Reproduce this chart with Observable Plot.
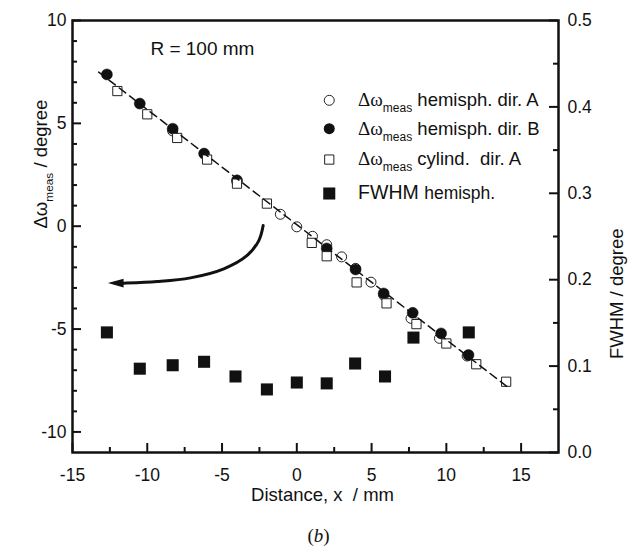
<!DOCTYPE html>
<html>
<head>
<meta charset="utf-8">
<script src="https://cdn.jsdelivr.net/npm/d3@7"></script>
<script src="https://cdn.jsdelivr.net/npm/@observablehq/plot@0.6"></script>
<style>
  html, body { margin: 0; padding: 0; background: #fff; }
</style>
</head>
<body>
<div id="chart"></div>
<script>
// ---- data ----
const hemiA_x = [-8.3, -4.0, -1.1, 0.0, 1.05, 2.0, 3.0, 3.93, 4.96, 5.81, 7.64, 9.54, 11.39];
const hemiA_y = [4.63, 2.15, 0.58, -0.03, -0.49, -0.9, -1.49, -2.05, -2.72, -3.35, -4.48, -5.45, -6.31];

const hemiB_x = [-12.7, -10.5, -8.3, -6.2, -4.0, 2.0, 3.93, 5.81, 7.75, 9.65, 11.48];
const hemiB_y = [7.38, 5.96, 4.74, 3.53, 2.23, -1.08, -2.1, -3.27, -4.21, -5.21, -6.26];

const cyl_x = [-12.0, -10.0, -8.0, -6.0, -4.0, -2.0, 1.0, 2.0, 4.0, 6.0, 8.0, 10.0, 12.0, 14.0];
const cyl_y = [6.57, 5.44, 4.29, 3.24, 2.07, 1.1, -0.81, -1.46, -2.73, -3.75, -4.76, -5.7, -6.71, -7.56];

const fwhm_x = [-12.7, -10.5, -8.3, -6.2, -4.1, -2.0, 0.0, 2.0, 3.9, 5.9, 7.8, 11.5];
const fwhm_v = [0.139, 0.097, 0.101, 0.105, 0.088, 0.073, 0.081, 0.080, 0.103, 0.088, 0.133, 0.139];

const fit_x = [-13.25, 14.25];
const fit_y = [7.49, -7.9];

// annotation arrow path and head
const arrow_x = [-2.25, -2.54, -3.32, -4.88, -7.11, -9.34, -11.57, -12.1];
const arrow_y = [0.03, -0.70, -1.42, -2.07, -2.51, -2.69, -2.77, -2.78];
const head_x = [-12.6, -11.55];
const head_lo = [-2.79, -3.0];
const head_hi = [-2.79, -2.58];

// ticks
const xMajor = [-15, -10, -5, 0, 5, 10, 15];
const xMinor = [-12.5, -7.5, -2.5, 2.5, 7.5, 12.5];
const yMajor = [-10, -5, 0, 5, 10];
const yMinor = [-9, -8, -7, -6, -4, -3, -2, -1, 1, 2, 3, 4, 6, 7, 8, 9];
const fwhmMajor = [0, 0.1, 0.2, 0.3, 0.4, 0.5];
const fwhmMinor = [0.05, 0.15, 0.25, 0.35, 0.45];

// legend
const legendLabels = ["Δω_meas hemisph. dir. A", "Δω_meas hemisph. dir. B", "Δω_meas cylind.  dir. A", "FWHM hemisph."];
const legendY = [6.12, 4.74, 3.24, 1.59];
const legendMarkX = 2.17;
const legendTextX = 4.1;

// ---- scales ----
const xDomain = [-15, 17.5];
const yDomain = [-11, 10];
const toLeft = f => yDomain[0] + f * (yDomain[1] - yDomain[0]) / 0.5;
const toFwhm = v => (v - yDomain[0]) * 0.5 / (yDomain[1] - yDomain[0]);

const zip = (xs, ys) => xs.map((x, i) => ({x, y: ys[i]}));

const W = 629, H = 547;
const mL = 72, mR = 71, mT = 20, mB = 95;
const pxX = (W - mL - mR) / (xDomain[1] - xDomain[0]);
const pxY = (H - mT - mB) / (yDomain[1] - yDomain[0]);
const majLen = 9, minLen = 5;

const ink = "#111";
const fmtInt = d => String(d);

const chart = Plot.plot({
  width: W, height: H,
  marginLeft: mL, marginRight: mR, marginTop: mT, marginBottom: mB,
  x: {domain: xDomain},
  y: {domain: yDomain},
  style: {fontFamily: "'Liberation Sans', Arial, sans-serif", fontSize: "17px", color: ink, background: "#fff"},
  marks: [
    // inward ticks
    Plot.ruleX(xMajor, {x: d => d, y1: yDomain[0], y2: yDomain[0] + majLen / pxY, stroke: ink, strokeWidth: 2}),
    Plot.ruleX(xMinor, {x: d => d, y1: yDomain[0], y2: yDomain[0] + minLen / pxY, stroke: ink, strokeWidth: 2}),
    Plot.ruleY(yMajor, {y: d => d, x1: xDomain[0], x2: xDomain[0] + majLen / pxX, stroke: ink, strokeWidth: 2}),
    Plot.ruleY(yMinor, {y: d => d, x1: xDomain[0], x2: xDomain[0] + minLen / pxX, stroke: ink, strokeWidth: 2}),
    Plot.ruleY(fwhmMajor, {y: d => toLeft(d), x1: xDomain[1] - majLen / pxX, x2: xDomain[1], stroke: ink, strokeWidth: 2}),
    Plot.ruleY(fwhmMinor, {y: d => toLeft(d), x1: xDomain[1] - minLen / pxX, x2: xDomain[1], stroke: ink, strokeWidth: 2}),
    Plot.frame({stroke: ink, strokeWidth: 2.5}),
    // axes labels
    Plot.axisX(xMajor, {tickSize: 0, tickPadding: 16, fontSize: 17.5, label: null, tickFormat: fmtInt}),
    Plot.axisY(yMajor, {anchor: "left", tickSize: 0, tickPadding: 6, fontSize: 17.5, label: null, tickFormat: fmtInt}),
    Plot.axisY(fwhmMajor.map(toLeft), {anchor: "right", tickSize: 0, tickPadding: 9, fontSize: 17.5, label: null,
      tickFormat: v => toFwhm(v).toFixed(1)}),
    // data
    Plot.dot(zip(hemiA_x, hemiA_y), {x: "x", y: "y", r: 5, stroke: "#222", strokeWidth: 1, fill: "#fff"}),
    Plot.dot(zip(hemiB_x, hemiB_y), {x: "x", y: "y", r: 5.5, fill: ink, stroke: ink, strokeWidth: 0.5}),
    Plot.dot(zip(cyl_x, cyl_y), {x: "x", y: "y", r: 5.2, symbol: "square", stroke: "#222", strokeWidth: 1, fill: "#fff"}),
    Plot.dot(zip(fwhm_x, fwhm_v), {x: "x", y: d => toLeft(d.y), r: 6.8, symbol: "square", fill: ink}),
    Plot.line(zip(fit_x, fit_y), {x: "x", y: "y", stroke: ink, strokeWidth: 1.5, strokeDasharray: "8,5"}),
    // arrow annotation
    Plot.line(zip(arrow_x, arrow_y), {x: "x", y: "y", curve: "catmull-rom", stroke: ink, strokeWidth: 3}),
    Plot.areaY(head_x.map((x, i) => ({x, lo: head_lo[i], hi: head_hi[i]})), {x: "x", y1: "lo", y2: "hi", fill: ink}),
    // annotation text
    Plot.text(["R = 100 mm"], {x: -9.79, y: 8.62, text: d => d, textAnchor: "start", fontSize: 19, fill: ink}),
    // legend
    Plot.dot([0], {x: legendMarkX, y: legendY[0], r: 5, stroke: "#222", strokeWidth: 1, fill: "#fff"}),
    Plot.dot([0], {x: legendMarkX, y: legendY[1], r: 5.5, fill: ink}),
    Plot.dot([0], {x: legendMarkX, y: legendY[2], r: 5.2, symbol: "square", stroke: "#222", strokeWidth: 1, fill: "#fff"}),
    Plot.dot([0], {x: legendMarkX, y: legendY[3], r: 6.8, symbol: "square", fill: ink}),
    Plot.text(legendLabels, {x: legendTextX, y: (d, i) => legendY[i], text: d => d, textAnchor: "start", fontSize: 18.5, fill: ink}),
    // axis titles
    Plot.text(["Distance, x  / mm"], {frameAnchor: "bottom", text: d => d, dx: 7, dy: 48, fontSize: 18.5, fill: ink}),
    Plot.text(["Δω_meas / degree"], {frameAnchor: "left", text: d => d, dx: -31, dy: -8, rotate: -90, fontSize: 18.5, fill: ink}),
    Plot.text(["FWHM / degree"], {frameAnchor: "right", text: d => d, dx: 59, dy: -8, rotate: -90, fontSize: 18.5, fill: ink}),
    Plot.text(["(b)"], {frameAnchor: "bottom", text: d => d, dx: 3, dy: 89, fontSize: 19, fontFamily: "'Liberation Serif', 'Times New Roman', serif", fill: ink})
  ]
});

// rich text: subscripts and italics
d3.select(chart).selectAll("text").each(function() {
  const t = this.textContent;
  const sel = d3.select(this);
  if (this.querySelector("tspan")) return;
  if (t.includes("_meas")) {
    const [a, b] = t.split("_meas");
    const inLegend = b.includes("dir.");
    sel.text(null);
    const g = sel.append("tspan").text(a);
    if (inLegend) g.attr("font-family", "'Liberation Serif', 'Times New Roman', serif").attr("font-size", "19px");
    sel.append("tspan").attr("font-size", inLegend ? "12px" : "0.64em").attr("dy", "6").text("meas");
    sel.append("tspan").attr("dy", "-6").text(b);
  } else if (t === "FWHM hemisph.") {
    sel.text(null);
    sel.append("tspan").attr("font-size", "19.5px").text("FWHM ");
    sel.append("tspan").attr("font-size", "17.5px").text("hemisph.");
  } else if (t === "(b)") {
    sel.text(null);
    sel.append("tspan").text("(");
    sel.append("tspan").attr("font-style", "italic").text("b");
    sel.append("tspan").text(")");
  }
});

document.getElementById("chart").appendChild(chart);
</script>
</body>
</html>
